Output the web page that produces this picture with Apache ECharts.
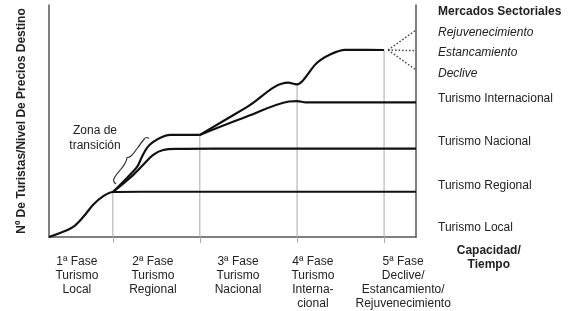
<!DOCTYPE html>
<html>
<head>
<meta charset="utf-8">
<script src="https://cdn.jsdelivr.net/npm/echarts@6/dist/echarts.min.js"></script>
<style>
html,body{margin:0;padding:0;background:#fff;}
#chart{width:571px;height:311px;}
</style>
</head>
<body>
<div id="chart"></div>
<script>
// phases along the time axis (0..100)
const phaseLabels = ['1ª Fase\nTurismo\nLocal', '2ª Fase\nTurismo\nRegional', '3ª Fase\nTurismo\nNacional', '4ª Fase\nTurismo\nInterna-\ncional', '5ª Fase\nDeclive/\nEstancamiento/\nRejuvenecimiento']
const phaseLabelAt = [7.6, 28.3, 51.5, 71.9, 96.5]
const phaseBounds = [17.4, 41.1, 67.6, 91.3]
const phaseTops = [19.4, 44.0, 65.7, 80.6]

// market labels on the right
const sideLabels = ['Mercados Sectoriales', 'Rejuvenecimiento', 'Estancamiento', 'Declive', 'Turismo Internacional', 'Turismo Nacional', 'Turismo Regional', 'Turismo Local']
const sideLabelAt = [97.0, 87.9, 79.3, 70.3, 59.5, 40.9, 22.0, 3.9]

// curves [time, level]
const localCurve = [[0,0],[3.0,1.7],[6.6,4.4],[9.3,8.6],[12.1,14.0],[14.8,17.6],[17.4,19.4],[25,19.5],[100,19.5]]
const regionalCurve = [[17.4,19.4],[22.9,26.7],[25.6,31.0],[28.3,35.3],[31.1,37.5],[34.9,38.0],[45,38.1],[100,38.1]]
const nationalCurve = [[17.4,19.4],[21.5,25.9],[24.0,30.2],[25.3,34.5],[26.7,38.4],[28.3,40.9],[30.8,43.1],[33.0,44.0],[37.6,44.0],[41.1,44.0]]
const internationalCurve = [[41.1,44.0],[53.9,51.9],[65.4,58.4],[67.6,58.6],[70.0,58.0],[100,58.0]]
const topCurve = [[41.1,44.0],[53.9,56.0],[65.2,66.5],[67.5,65.8],[69.2,67.5],[72.9,74.9],[76.6,78.7],[80.7,80.7],[83.8,80.7],[91.3,80.6]]
const fanStart = [92.4, 80.6]
const fanEnds = [[100,89.2],[100,80.3],[100,72.0]]
const braceLower = [[18.26,22.84],[17.60,24.35],[18.12,26.29],[19.62,29.31],[20.84,32.11],[21.25,34.27]]
const braceUpper = [[21.25,34.27],[22.34,34.91],[24.11,38.36],[25.75,41.81],[26.57,42.89],[27.25,42.46]]

const chart = echarts.init(document.getElementById('chart'))

const curveStyle = {color:'#111', width:2.2}
const txt = '#222'

function curve(data){
    return {type:'line', data:data, symbol:'none', smooth:0.35, lineStyle:curveStyle, z:5, silent:true}
}

function brace(data){
    return {type:'line', data:data, symbol:'none', smooth:0.5, lineStyle:{color:'#333', width:1.2}, z:4, silent:true}
}

const series = [
    curve(localCurve),
    curve(regionalCurve),
    curve(nationalCurve),
    curve(internationalCurve),
    curve(topCurve),
    brace(braceLower),
    brace(braceUpper)
]

phaseBounds.forEach((b, i) => {
    series.push({type:'line', data:[[b,0],[b,phaseTops[i]]], symbol:'none', lineStyle:{color:'#aaa', width:1}, z:2, silent:true})
})

fanEnds.forEach(e => {
    series.push({type:'line', data:[fanStart, e], symbol:'none', lineStyle:{color:'#444', width:1.5, type:[1.5,2]}, z:3, silent:true})
})

const option = {
    animation:false,
    textStyle:{fontFamily:'Liberation Sans, Arial, sans-serif'},
    grid:{left:49, right:155, top:5, bottom:74},
    xAxis:{
        type:'value', min:0, max:100,
        axisLine:{lineStyle:{color:'#555', width:1.5}},
        splitLine:{show:false},
        axisTick:{show:true, customValues:phaseBounds, length:6, lineStyle:{color:'#aaa', width:1}},
        axisLabel:{
            customValues:phaseLabelAt, margin:18, color:txt, fontSize:12, lineHeight:14, align:'center',
            formatter:v => phaseLabels[phaseLabelAt.indexOf(v)] || ''
        },
        name:'Capacidad/\nTiempo', nameLocation:'end', nameGap:54,
        nameTextStyle:{color:txt, fontSize:12, fontWeight:'bold', align:'center', verticalAlign:'top', lineHeight:14, padding:[7,0,0,0]}
    },
    yAxis:[
        {
            type:'value', min:0, max:100,
            axisLine:{show:true, lineStyle:{color:'#555', width:1.5}},
            axisTick:{show:false}, axisLabel:{show:false}, splitLine:{show:false},
            name:'Nº De Turistas/Nivel De Precios Destino', nameLocation:'middle', nameGap:21,
            nameTextStyle:{color:txt, fontSize:12, fontWeight:'bold'}
        },
        {
            type:'value', min:0, max:100, position:'right',
            axisLine:{show:true, lineStyle:{color:'#555', width:1.5}},
            axisTick:{show:false}, splitLine:{show:false},
            axisLabel:{
                customValues:sideLabelAt, margin:22, color:txt, fontSize:12, align:'left',
                formatter:v => {
                    const i = sideLabelAt.indexOf(v)
                    if (i === 0) return '{b|' + sideLabels[i] + '}'
                    if (i >= 1 && i <= 3) return '{i|' + sideLabels[i] + '}'
                    return sideLabels[i] || ''
                },
                rich:{
                    b:{fontWeight:'bold', fontSize:12, color:txt},
                    i:{fontStyle:'italic', fontSize:12, color:txt}
                }
            }
        }
    ],
    graphic:[
        {type:'text', x:95, y:138, silent:true, style:{text:'Zona de\ntransición', fill:txt, font:'12px "Liberation Sans", Arial, sans-serif', align:'center', verticalAlign:'middle', lineHeight:15}}
    ],
    series:series
}

chart.setOption(option)
</script>
</body>
</html>
